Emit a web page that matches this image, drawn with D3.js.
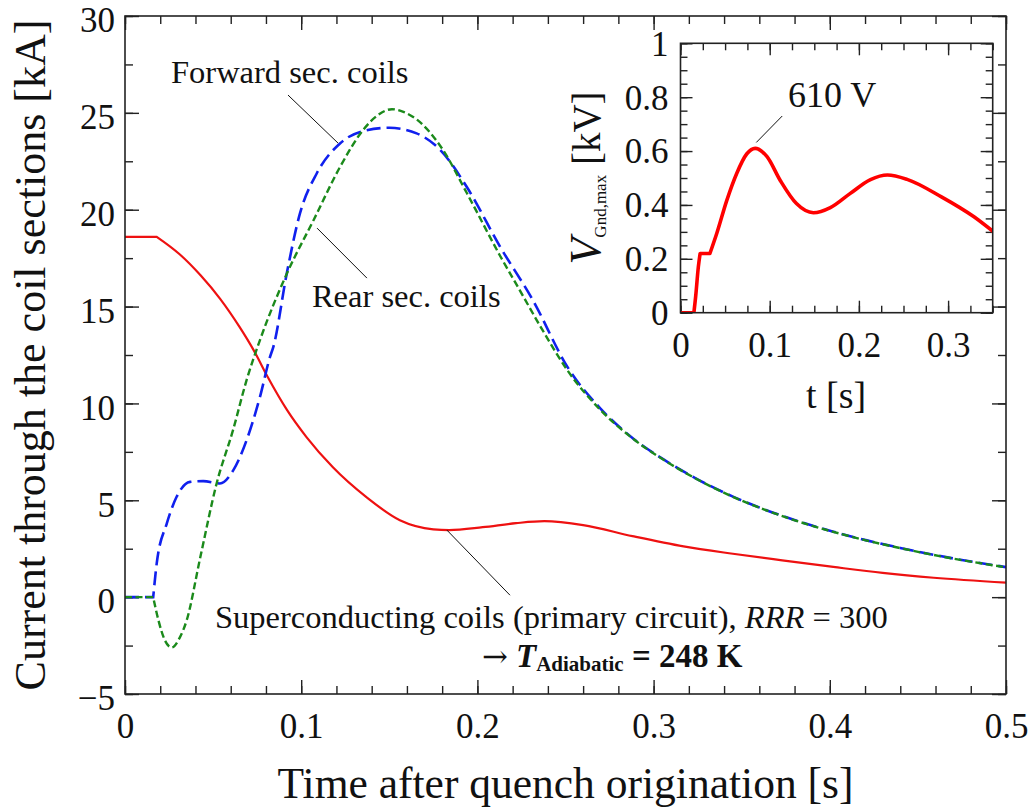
<!DOCTYPE html>
<html>
<head>
<meta charset="utf-8">
<script src="https://cdn.jsdelivr.net/npm/d3@7"></script>
<style>
  html, body { margin: 0; padding: 0; background: #fff; }
  svg { display: block; }
  text { font-family: "Liberation Serif", "Times New Roman", serif; fill: #111; }
</style>
</head>
<body>
<svg id="chart" width="1030" height="809"></svg>
<script>
// Current in the primary (superconducting) circuit, kA
const tPrimary = [0, 0.018, 0.031, 0.043, 0.054, 0.065, 0.073, 0.081, 0.092, 0.103, 0.118, 0.137, 0.156, 0.175, 0.184, 0.203, 0.222, 0.238, 0.26, 0.288, 0.317, 0.345, 0.373, 0.402, 0.43, 0.459, 0.5];
const iPrimary = [18.6, 18.6, 17.7, 16.6, 15.4, 13.95, 12.75, 11.36, 9.65, 8.26, 6.7, 5.16, 3.97, 3.5, 3.46, 3.61, 3.82, 3.92, 3.72, 3.15, 2.62, 2.24, 1.9, 1.56, 1.25, 1.0, 0.75];

// Forward secondary coils, kA
const tForward = [0, 0.016, 0.018, 0.0237, 0.0293, 0.0369, 0.0444, 0.0539, 0.0615, 0.069, 0.0766, 0.0823, 0.0842, 0.0918, 0.0993, 0.1088, 0.122, 0.137, 0.150, 0.1655, 0.179, 0.194, 0.213, 0.2315, 0.251, 0.27, 0.288, 0.3076, 0.326, 0.345, 0.364, 0.383, 0.402, 0.421, 0.44, 0.47, 0.5];
const iForward = [0, 0, 1.74, 3.8, 5.18, 5.95, 5.99, 5.87, 6.56, 8.1, 10.34, 12.4, 12.92, 16.71, 19.81, 21.87, 23.42, 24.1, 24.23, 23.94, 23.08, 21.17, 18.07, 15.33, 11.9, 9.72, 8.22, 7.0, 6.03, 5.19, 4.49, 3.89, 3.38, 2.93, 2.54, 2.0, 1.55];

// Rear secondary coils, kA
const tRear = [0, 0.016, 0.019, 0.0225, 0.0265, 0.031, 0.035, 0.0426, 0.052, 0.0613, 0.069, 0.0766, 0.092, 0.107, 0.122, 0.135, 0.143, 0.1515, 0.158, 0.1657, 0.1805, 0.194, 0.213, 0.224, 0.237, 0.251, 0.27, 0.288, 0.3076, 0.326, 0.345, 0.364, 0.383, 0.402, 0.421, 0.44, 0.47, 0.5];
const iRear = [0, 0, -1.2, -2.2, -2.6, -2.1, -1.2, 2.0, 5.87, 8.62, 11.2, 13.27, 16.73, 19.46, 22.2, 24.1, 24.85, 25.19, 25.05, 24.65, 23.08, 20.86, 17.6, 15.85, 13.78, 11.72, 9.65, 8.2, 6.98, 6.02, 5.18, 4.48, 3.88, 3.37, 2.92, 2.53, 1.99, 1.54];

// Inset: maximum voltage to ground, kV
const tVolt = [0, 0.015, 0.017, 0.02, 0.022, 0.0275, 0.033, 0.0407, 0.052, 0.063, 0.0744, 0.0837, 0.0968, 0.112, 0.13, 0.149, 0.168, 0.19, 0.213, 0.232, 0.254, 0.292, 0.329, 0.351];
const vGnd  = [0, 0, 0.06, 0.17, 0.22, 0.22, 0.22, 0.295, 0.418, 0.517, 0.59, 0.61, 0.58, 0.49, 0.405, 0.371, 0.39, 0.442, 0.494, 0.511, 0.495, 0.431, 0.356, 0.30];

// Tick values and labels
const xMajorMain = [0, 0.1, 0.2, 0.3, 0.4, 0.5];
const xLabelsMain = ["0", "0.1", "0.2", "0.3", "0.4", "0.5"];
const yMajorMain = [-5, 0, 5, 10, 15, 20, 25, 30];
const yLabelsMain = ["\u22125", "0", "5", "10", "15", "20", "25", "30"];
const xMajorInset = [0, 0.1, 0.2, 0.3];
const xLabelsInset = ["0", "0.1", "0.2", "0.3"];
const yMajorInset = [0, 0.2, 0.4, 0.6, 0.8, 1];
const yLabelsInset = ["0", "0.2", "0.4", "0.6", "0.8", "1"];

const svg = d3.select("#chart");
const FONT = '"Liberation Serif", "Times New Roman", serif';

// ---------- main panel ----------
const M = { left: 125, right: 1006, top: 16, bottom: 694 };
const x = d3.scaleLinear().domain([0, 0.5]).range([M.left, M.right]);
const y = d3.scaleLinear().domain([-5, 30]).range([M.bottom, M.top]);

const defs = svg.append("defs");
defs.append("clipPath").attr("id", "clipMain")
  .append("rect").attr("x", M.left).attr("y", M.top)
  .attr("width", M.right - M.left).attr("height", M.bottom - M.top);

function styleAxis(g) {
  g.select(".domain").remove();
  g.selectAll(".tick line").attr("stroke", "#222").attr("stroke-width", 1.4);
  g.selectAll(".tick text").style("font-family", FONT).attr("fill", "#111");
}

function range(a, b, step) {
  const out = [];
  for (let v = a; v <= b + 1e-9; v += step) out.push(+v.toFixed(6));
  return out;
}

// White panel with inward major/minor ticks on all four sides
function frame(sx, sy, xMajor, xLabels, yMajor, yLabels, xMinorStep, yMinorStep, major, minor, pad, fs) {
  const [x0, x1] = sx.range(), [y0, y1] = sy.range();
  const [dx0, dx1] = sx.domain(), [dy0, dy1] = sy.domain();
  const xMinor = range(dx0, dx1, xMinorStep);
  const yMinor = range(dy0, dy1, yMinorStep);
  const root = svg.append("g");

  root.append("rect").attr("x", x0).attr("y", y1).attr("width", x1 - x0).attr("height", y0 - y1)
    .attr("fill", "#fff");

  root.append("g").attr("transform", `translate(0,${y0})`)
    .call(d3.axisBottom(sx).tickValues(xMinor).tickSize(-minor).tickSizeOuter(0).tickFormat("")).call(styleAxis);
  root.append("g").attr("transform", `translate(0,${y1})`)
    .call(d3.axisTop(sx).tickValues(xMinor).tickSize(-minor).tickSizeOuter(0).tickFormat("")).call(styleAxis);
  root.append("g").attr("transform", `translate(${x0},0)`)
    .call(d3.axisLeft(sy).tickValues(yMinor).tickSize(-minor).tickSizeOuter(0).tickFormat("")).call(styleAxis);
  root.append("g").attr("transform", `translate(${x1},0)`)
    .call(d3.axisRight(sy).tickValues(yMinor).tickSize(-minor).tickSizeOuter(0).tickFormat("")).call(styleAxis);

  const bx = root.append("g").attr("transform", `translate(0,${y0})`)
    .call(d3.axisBottom(sx).tickValues(xMajor).tickSize(-major).tickSizeOuter(0).tickPadding(pad.x)
      .tickFormat((d, i) => xLabels[i])).call(styleAxis);
  bx.selectAll(".tick text").style("font-size", fs + "px");
  root.append("g").attr("transform", `translate(0,${y1})`)
    .call(d3.axisTop(sx).tickValues(xMajor).tickSize(-major).tickSizeOuter(0).tickFormat("")).call(styleAxis);
  const ly = root.append("g").attr("transform", `translate(${x0},0)`)
    .call(d3.axisLeft(sy).tickValues(yMajor).tickSize(-major).tickSizeOuter(0).tickPadding(pad.y)
      .tickFormat((d, i) => yLabels[i])).call(styleAxis);
  ly.selectAll(".tick text").style("font-size", fs + "px").attr("dy", pad.dy);
  root.append("g").attr("transform", `translate(${x1},0)`)
    .call(d3.axisRight(sy).tickValues(yMajor).tickSize(-major).tickSizeOuter(0).tickFormat("")).call(styleAxis);

  return root;
}

frame(x, y, xMajorMain, xLabelsMain, yMajorMain, yLabelsMain, 0.02, 2.5, 14, 8,
  { x: 19, y: 10, dy: "0.45em" }, 35);

const zip = (a, b) => a.map((v, i) => [v, b[i]]);

// Smooth each piece between corners (where a flat run starts or ends) on its own,
// so the curve keeps a sharp bend there instead of being rounded off.
function cornerPath(sx, sy, pts) {
  const gen = d3.line().x(d => sx(d[0])).y(d => sy(d[1])).curve(d3.curveMonotoneX);
  const cuts = [0];
  for (let i = 1; i < pts.length - 1; i++) {
    const flatBefore = pts[i - 1][1] === pts[i][1];
    const flatAfter = pts[i][1] === pts[i + 1][1];
    if (flatBefore !== flatAfter) cuts.push(i);
  }
  cuts.push(pts.length - 1);
  let d = "";
  for (let k = 0; k < cuts.length - 1; k++) {
    const seg = gen(pts.slice(cuts[k], cuts[k + 1] + 1));
    d += k === 0 ? seg : seg.replace(/^M/, "L");
  }
  return d;
}

const curves = svg.append("g").attr("clip-path", "url(#clipMain)");
curves.append("path").attr("d", cornerPath(x, y, zip(tPrimary, iPrimary)))
  .attr("fill", "none").attr("stroke", "#ee1111").attr("stroke-width", 2.2);
curves.append("path").attr("d", cornerPath(x, y, zip(tForward, iForward)))
  .attr("fill", "none").attr("stroke", "#1020ee").attr("stroke-width", 2.6)
  .attr("stroke-dasharray", "14 6");
curves.append("path").attr("d", cornerPath(x, y, zip(tRear, iRear)))
  .attr("fill", "none").attr("stroke", "#1b8a1b").attr("stroke-width", 2.4)
  .attr("stroke-dasharray", "7 3.5");

// frame on top of the curves
svg.append("rect").attr("x", M.left).attr("y", M.top).attr("width", M.right - M.left).attr("height", M.bottom - M.top)
  .attr("fill", "none").attr("stroke", "#222").attr("stroke-width", 1.6);

// annotations with leader lines
const ann = svg.append("g");
function leader(t0, v0, t1, v1) {
  ann.append("line").attr("x1", x(t0)).attr("y1", y(v0)).attr("x2", x(t1)).attr("y2", y(v1))
    .attr("stroke", "#111").attr("stroke-width", 1);
}
leader(0.0925, 25.92, 0.1209, 23.44);
ann.append("text").attr("x", x(0.0261)).attr("y", y(26.54)).style("font-size", "32.5px").text("Forward sec. coils");
leader(0.109, 19.05, 0.1373, 16.47);
ann.append("text").attr("x", x(0.1061)).attr("y", y(14.97)).style("font-size", "32.5px").text("Rear sec. coils");
leader(0.1827, 3.46, 0.2185, 0.1);
const sc = ann.append("text").attr("x", x(0.0511)).attr("y", y(-1.6)).style("font-size", "32.5px");
sc.append("tspan").text("Superconducting coils (primary circuit), ");
sc.append("tspan").style("font-style", "italic").text("RRR");
sc.append("tspan").text(" = 300");
const ta = ann.append("text").attr("x", x(0.2026)).attr("y", y(-3.6)).style("font-size", "33px").style("font-weight", "bold");
ta.append("tspan").style("font-weight", "normal").style("font-family", '"DejaVu Serif", serif').style("font-size", "31px").text("\u2192");
ta.append("tspan").style("font-style", "italic").attr("dx", 8).text("T");
ta.append("tspan").style("font-size", "21px").attr("dy", 4).text("Adiabatic");
ta.append("tspan").attr("dy", -4).text(" = 248 K");

// axis titles
svg.append("text").attr("x", (M.left + M.right) / 2).attr("y", 798).attr("text-anchor", "middle")
  .style("font-size", "43.5px").text("Time after quench origination [s]");
svg.append("text").attr("transform", "translate(45,355) rotate(-90)").attr("text-anchor", "middle")
  .style("font-size", "44px").text("Current through the coil sections [kA]");

// ---------- inset ----------
const I = { left: 680.5, right: 992.7, top: 43.3, bottom: 312.7 };
const xi = d3.scaleLinear().domain([0, 0.35]).range([I.left, I.right]);
const yi = d3.scaleLinear().domain([0, 1]).range([I.bottom, I.top]);

defs.append("clipPath").attr("id", "clipInset")
  .append("rect").attr("x", I.left).attr("y", I.top - 5)
  .attr("width", I.right - I.left).attr("height", I.bottom - I.top + 5);

frame(xi, yi, xMajorInset, xLabelsInset, yMajorInset, yLabelsInset, 0.025, 0.05, 12, 7,
  { x: 19, y: 12, dy: "0.34em" }, 35);

svg.append("g").attr("clip-path", "url(#clipInset)")
  .append("path").attr("d", cornerPath(xi, yi, zip(tVolt, vGnd)))
  .attr("fill", "none").attr("stroke", "#f00").attr("stroke-width", 3.6)
  .attr("stroke-linejoin", "round");

svg.append("rect").attr("x", I.left).attr("y", I.top).attr("width", I.right - I.left).attr("height", I.bottom - I.top)
  .attr("fill", "none").attr("stroke", "#222").attr("stroke-width", 1.6);

// peak voltage label
svg.append("line").attr("x1", xi(0.114)).attr("y1", yi(0.73)).attr("x2", xi(0.085)).attr("y2", yi(0.632))
  .attr("stroke", "#111").attr("stroke-width", 1);
svg.append("text").attr("x", xi(0.1205)).attr("y", yi(0.763)).style("font-size", "36px").text("610 V");

// inset axis titles
svg.append("text").attr("x", 836).attr("y", 408).attr("text-anchor", "middle").style("font-size", "38px").text("t [s]");
const vt = svg.append("text").attr("transform", "translate(600,178) rotate(-90)").attr("text-anchor", "middle");
vt.append("tspan").style("font-style", "italic").style("font-size", "44px").text("V");
vt.append("tspan").style("font-size", "17px").attr("dy", 6).text("Gnd,max");
vt.append("tspan").style("font-size", "39px").attr("dy", -6).text(" [kV]");
</script>
</body>
</html>
